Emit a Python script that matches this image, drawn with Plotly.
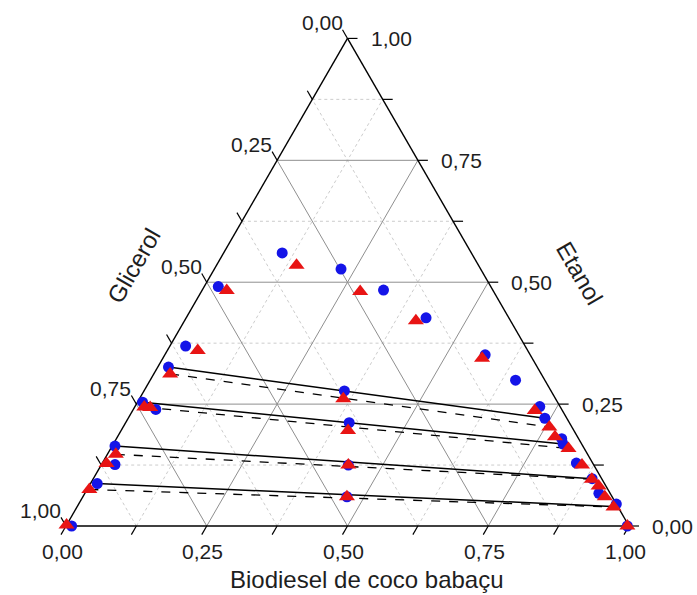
import math
import plotly.graph_objects as go

# ---------------- data (mass fractions) ----------------
blue_bio = [0.010, 0.012, 0.024, 0.005, 0.009, 0.040, 0.019, 0.028, 0.025, 0.104, 0.225, 0.322, 0.426, 0.569,
            0.649, 0.719, 0.740, 0.791, 0.799, 0.842, 0.886, 0.913, 0.955, 0.997, 0.356, 0.397, 0.439, 0.469]
blue_eta = [0.000, 0.087, 0.126, 0.164, 0.254, 0.239, 0.326, 0.369, 0.491, 0.560, 0.527, 0.484, 0.427, 0.351,
            0.299, 0.245, 0.221, 0.179, 0.168, 0.129, 0.097, 0.067, 0.045, 0.000, 0.277, 0.212, 0.125, 0.060]
blue_gli = [0.990, 0.901, 0.850, 0.831, 0.737, 0.721, 0.655, 0.603, 0.484, 0.336, 0.248, 0.194, 0.147, 0.080,
            0.052, 0.036, 0.039, 0.030, 0.033, 0.029, 0.017, 0.020, 0.000, 0.003, 0.367, 0.391, 0.436, 0.471]

red_bio = [0.000, 0.004, 0.008, 0.015, 0.017, 0.028, 0.029, 0.054, 0.044, 0.142, 0.282, 0.411, 0.567, 0.714,
           0.757, 0.777, 0.813, 0.854, 0.886, 0.905, 0.927, 0.953, 0.997, 0.362, 0.403, 0.439, 0.469]
red_eta = [0.002, 0.075, 0.128, 0.147, 0.244, 0.243, 0.312, 0.360, 0.483, 0.535, 0.481, 0.421, 0.344, 0.237,
           0.203, 0.183, 0.159, 0.125, 0.096, 0.082, 0.060, 0.039, 0.000, 0.261, 0.196, 0.125, 0.060]
red_gli = [0.998, 0.921, 0.864, 0.838, 0.739, 0.729, 0.659, 0.586, 0.473, 0.323, 0.237, 0.168, 0.089, 0.049,
           0.040, 0.040, 0.028, 0.021, 0.018, 0.013, 0.013, 0.008, 0.003, 0.377, 0.401, 0.436, 0.471]

# tie lines: experimental (solid) and calculated (dashed)
tie_exp_left_bio = [0.019, 0.009, 0.005, 0.012]
tie_exp_left_eta = [0.326, 0.254, 0.164, 0.087]
tie_exp_right_bio = [0.740, 0.799, 0.886, 0.950]
tie_exp_right_eta = [0.221, 0.168, 0.097, 0.040]

tie_calc_left_bio = [0.029, 0.017, 0.015, 0.004]
tie_calc_left_eta = [0.312, 0.244, 0.147, 0.075]
tie_calc_right_bio = [0.757, 0.813, 0.886, 0.953]
tie_calc_right_eta = [0.203, 0.159, 0.096, 0.039]

tick_values = [0.0, 0.25, 0.5, 0.75, 1.0]
tick_labels = ["0,00", "0,25", "0,50", "0,75", "1,00"]
minor_values = [0.125, 0.375, 0.625, 0.875]

title_bottom = "Biodiesel de coco babaçu"
title_left = "Glicerol"
title_right = "Etanol"

# ---------------- geometry helpers ----------------
H = math.sqrt(3) / 2
S = 563.0                 # pixels per unit
W, HT = 697, 595
X0_PX, Y0_PX = 66, 526    # pixel position of the bottom-left vertex


def xy(bio, eta):
    return bio + eta / 2.0, eta * H


def px(v):
    return v / S


FONT = "Liberation Sans, Arial, sans-serif"
TXT = "#1e1e1e"
fig = go.Figure()


def add_lines(segs, color, width, dash="solid"):
    xs, ys = [], []
    for (b1, e1), (b2, e2) in segs:
        x1, y1 = xy(b1, e1)
        x2, y2 = xy(b2, e2)
        xs += [x1, x2, None]
        ys += [y1, y2, None]
    fig.add_trace(go.Scatter(x=xs, y=ys, mode="lines", hoverinfo="skip", showlegend=False,
                             line=dict(color=color, width=width, dash=dash)))


def grid_segments(vals):
    segs = []
    for v in vals:
        segs.append(((0.0, v), (1 - v, v)))        # constant Etanol (horizontal)
        segs.append(((v, 0.0), (v, 1 - v)))        # constant Biodiesel
        segs.append(((1 - v, 0.0), (0.0, 1 - v)))  # constant Glicerol
    return segs


add_lines(grid_segments(minor_values), "#cccccc", 1, "dot")
add_lines(grid_segments([0.25, 0.5, 0.75]), "#8f8f8f", 1)

# frame
add_lines([((0, 0), (1, 0)), ((1, 0), (0, 1)), ((0, 1), (0, 0))], "#000000", 1.4)

# ticks (outward, along grid direction)
TL = px(10)
tick_x, tick_y = [], []
for v in tick_values + minor_values:
    x, y = xy(v, 0)                       # bottom (Biodiesel): down-left
    tick_x += [x, x - TL * 0.5, None]
    tick_y += [y, y - TL * H, None]
    x, y = xy(1 - v, v)                   # right (Etanol): to the right
    tick_x += [x, x + TL, None]
    tick_y += [y, y, None]
    x, y = xy(0, 1 - v)                   # left (Glicerol): up-left
    tick_x += [x, x - TL * 0.5, None]
    tick_y += [y, y + TL * H, None]
fig.add_trace(go.Scatter(x=tick_x, y=tick_y, mode="lines", hoverinfo="skip", showlegend=False,
                         line=dict(color="#000000", width=1.2)))

# tie lines
add_lines([((a, b), (c, d)) for a, b, c, d in zip(tie_calc_left_bio, tie_calc_left_eta,
                                                  tie_calc_right_bio, tie_calc_right_eta)],
          "#000000", 1.3, "dash")
add_lines([((a, b), (c, d)) for a, b, c, d in zip(tie_exp_left_bio, tie_exp_left_eta,
                                                  tie_exp_right_bio, tie_exp_right_eta)],
          "#000000", 1.5)


def norm_xy(bio, eta, gli):
    xs, ys = [], []
    for b, e, g in zip(bio, eta, gli):
        t = b + e + g
        x, y = xy(b / t, e / t)
        xs.append(x)
        ys.append(y)
    return xs, ys


bx, by = norm_xy(blue_bio, blue_eta, blue_gli)
fig.add_trace(go.Scatter(x=bx, y=by, mode="markers", showlegend=False,
                         marker=dict(symbol="circle", size=11, color="#1414e8", line=dict(width=0))))
rx, ry = norm_xy(red_bio, red_eta, red_gli)
fig.add_trace(go.Scatter(x=rx, y=ry, mode="markers", showlegend=False,
                         marker=dict(symbol="triangle-up", size=14, color="#e81414", line=dict(width=0))))

# tick labels
ann = []
for v, lab in zip(tick_values, tick_labels):
    x, y = xy(v, 0)
    ann.append(dict(x=x - px(4), y=y - px(25), text=lab, xanchor="center", yanchor="middle"))
    x, y = xy(1 - v, v)
    ann.append(dict(x=x + px(21), y=y, text=lab, xanchor="left", yanchor="middle"))
    x, y = xy(0, 1 - v)
    ann.append(dict(x=x - px(3), y=y + px(16), text=lab, xanchor="right", yanchor="middle"))
for a in ann:
    a.update(xref="x", yref="y", showarrow=False, font=dict(family=FONT, size=21, color=TXT))
    fig.add_annotation(**a)

# axis titles
fig.add_annotation(x=px(367 - X0_PX), y=-px(579 - Y0_PX), text=title_bottom, xref="x", yref="y",
                   showarrow=False, xanchor="center", yanchor="middle",
                   font=dict(family=FONT, size=24, color=TXT))
fig.add_annotation(x=px(133 - X0_PX), y=px(Y0_PX - 266), text=title_left, xref="x", yref="y",
                   showarrow=False, xanchor="center", yanchor="middle", textangle=-60,
                   font=dict(family=FONT, size=24, color=TXT))
fig.add_annotation(x=px(580 - X0_PX), y=px(Y0_PX - 273), text=title_right, xref="x", yref="y",
                   showarrow=False, xanchor="center", yanchor="middle", textangle=60,
                   font=dict(family=FONT, size=24, color=TXT))

fig.update_layout(
    width=W, height=HT,
    margin=dict(l=0, r=0, t=0, b=0, pad=0),
    paper_bgcolor="white", plot_bgcolor="white",
    xaxis=dict(range=[-X0_PX / S, (W - X0_PX) / S], visible=False, fixedrange=True),
    yaxis=dict(range=[-(HT - Y0_PX) / S, Y0_PX / S], visible=False, fixedrange=True),
    showlegend=False,
)

fig.write_html("out.html")
